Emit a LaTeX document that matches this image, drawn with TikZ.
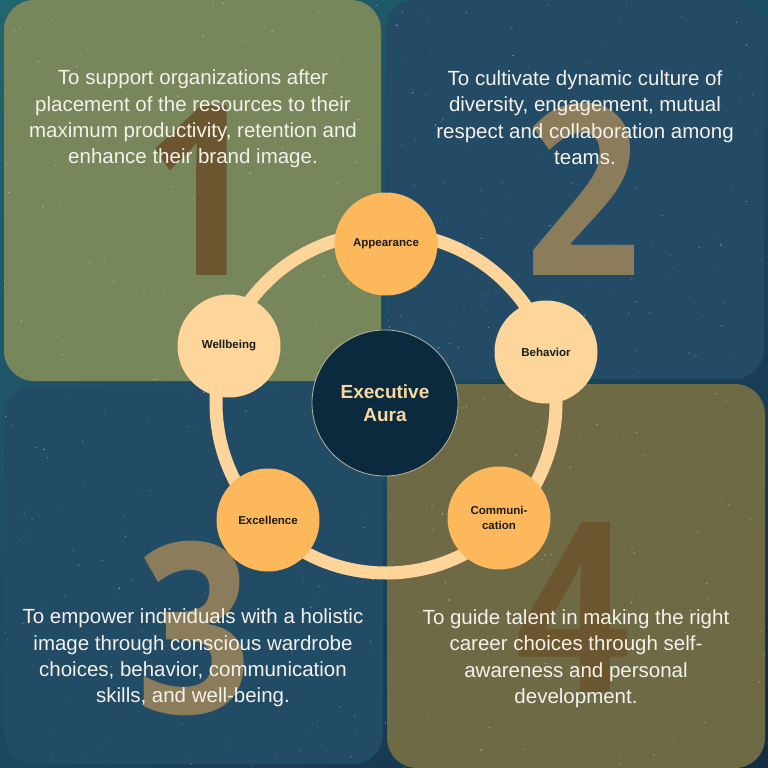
\documentclass[tikz,border=0pt]{standalone}
\usepackage{fontspec}
\setmainfont{Liberation Sans}
\newfontfamily\numfont[FakeStretch=0.85]{Open Sans}
\usetikzlibrary{shadings}
\definecolor{bgA}{HTML}{21656E}
\definecolor{bgB}{HTML}{1C4E63}
\definecolor{bgC}{HTML}{1B4760}
\definecolor{bgD}{HTML}{152C42}
\definecolor{panTL}{HTML}{77865B}
\definecolor{panTR}{HTML}{244B65}
\definecolor{panBL}{HTML}{224B66}
\definecolor{panBR}{HTML}{6E6A46}
\definecolor{numOl}{HTML}{6C5630}
\definecolor{numBl}{HTML}{8B7D5C}
\definecolor{ringc}{HTML}{FDD59B}
\definecolor{peach}{HTML}{FED69B}
\definecolor{amber}{HTML}{FCB85A}
\definecolor{navy}{HTML}{0C2A3E}
\definecolor{navyedge}{HTML}{B9B49A}
\definecolor{auratext}{HTML}{F6D8A0}
\definecolor{paneltext}{HTML}{F3F1EA}
\definecolor{nodetext}{HTML}{1C1C1C}
\tikzset{
  panel/.style={rounded corners=30pt},
  bignum/.style={anchor=base, inner sep=0pt, font=\fontsize{238}{238}\selectfont\numfont\bfseries},
  ptext/.style={align=center, text=paneltext, inner sep=0pt, font=\fontsize{20.5}{26.4}\selectfont},
  ringline/.style={draw=ringc, line width=13pt},
  bub/.style={circle, minimum size=103pt, inner sep=0pt, text=nodetext, align=center, font=\fontsize{11.5}{15}\selectfont\bfseries},
  hub/.style={circle, minimum size=146pt, inner sep=0pt, fill=navy, draw=navyedge, line width=0.8pt, text=auratext, align=center, font=\fontsize{19}{23}\selectfont\bfseries}
}
\begin{document}
\begin{tikzpicture}[x=1pt, y=-1pt]
\useasboundingbox (0,0) rectangle (768,768);
% background
\shade[upper left=bgA, upper right=bgB, lower left=bgC, lower right=bgD] (0,0) rectangle (768,768);
% panels
\fill[panel, panTL] (4,0) rectangle (381,381);
\fill[panel, panTR] (385,0) rectangle (764,379);
\fill[panel, panBL] (4,386) rectangle (383,764);
\fill[panel, panBR] (387,384) rectangle (765,768);
% stars
\pgfmathsetseed{42}
\foreach \i in {1,...,520}{
  \pgfmathsetmacro{\sx}{rnd*768}
  \pgfmathsetmacro{\sy}{rnd*768}
  \pgfmathsetmacro{\sr}{0.3+rnd*0.6}
  \pgfmathsetmacro{\so}{0.12+rnd*0.35}
  \fill[white, opacity=\so] (\sx,\sy) circle[radius=\sr pt];
}
% big numbers
\node[bignum, text=numOl] (n1) at (201,275) {1};
\node[bignum, text=numBl] (n2) at (583,275) {2};
\node[bignum, text=numBl] (n3) at (194,713) {3};
\node[bignum, text=numOl] (n4) at (573,692) {4};
% panel texts
\node[ptext] (t1) at (193,119) {To support organizations after\\placement of the resources to their\\maximum productivity, retention and\\enhance their brand image.};
\node[ptext] (t2) at (585,117.5) {To cultivate dynamic culture of\\diversity, engagement, mutual\\respect and collaboration among\\teams.};
\node[ptext] (t3) at (193,658) {To empower individuals with a holistic\\image through conscious wardrobe\\choices, behavior, communication\\skills, and well-being.};
\node[ptext] (t4) at (576,658.5) {To guide talent in making the right\\career choices through self-\\awareness and personal\\development.};
% ring
\coordinate (rc) at (386,403);
\draw[ringline] (rc) circle[radius=170pt];
% hub
\node[hub] (hub) at (385,403) {Executive\\Aura};
% bubbles
\node[bub, fill=amber] (app) at (386,244) {Appearance};
\node[bub, fill=peach] (beh) at (546,352) {Behavior};
\node[bub, fill=amber] (com) at (499,518) {Communi-\\cation};
\node[bub, fill=amber] (exc) at (268,520) {Excellence};
\node[bub, fill=peach] (wel) at (229,346) {Wellbeing};
\end{tikzpicture}
\end{document}
